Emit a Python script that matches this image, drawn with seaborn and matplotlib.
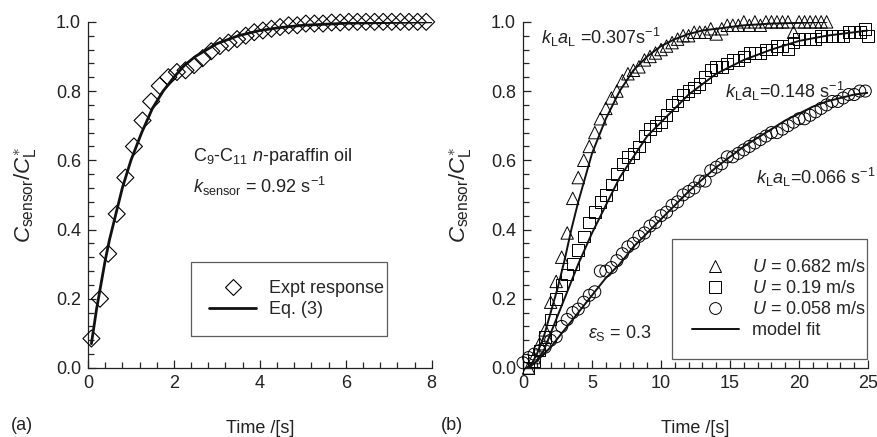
import numpy as np
import pandas as pd
import seaborn as sns
import matplotlib.pyplot as plt
from matplotlib.lines import Line2D
from matplotlib.ticker import MultipleLocator, FormatStrFormatter

# ---- panel (a): sensor response ----
expt_t = [0.08, 0.28, 0.47, 0.67, 0.87, 1.07, 1.27, 1.47, 1.67, 1.87, 2.07, 2.27, 2.47, 2.67,
          2.87, 3.07, 3.27, 3.47, 3.67, 3.87, 4.07, 4.27, 4.47, 4.67, 4.87, 5.07, 5.27, 5.47,
          5.67, 5.87, 6.07, 6.27, 6.47, 6.67, 6.87, 7.07, 7.27, 7.47, 7.67, 7.87]
expt_y = [0.085, 0.20, 0.33, 0.445, 0.55, 0.64, 0.715, 0.77, 0.815, 0.84, 0.855, 0.86, 0.875, 0.895,
          0.915, 0.93, 0.94, 0.95, 0.96, 0.97, 0.975, 0.98, 0.985, 0.99, 0.99, 0.995, 0.995, 0.995,
          0.998, 0.998, 1.0, 1.0, 1.0, 1.0, 1.0, 1.0, 1.0, 1.0, 1.0, 1.0]
eq3_t = [0.08, 0.2, 0.3, 0.4, 0.5, 0.6, 0.8, 1.0, 1.25, 1.5, 1.75, 2.0, 2.25, 2.5, 3.0, 3.5,
         4.0, 4.5, 5.0, 6.0, 7.0, 8.0]
eq3_y = [0.07, 0.17, 0.24, 0.31, 0.37, 0.42, 0.52, 0.60, 0.68, 0.75, 0.80, 0.84, 0.875, 0.90,
         0.937, 0.96, 0.975, 0.984, 0.99, 0.996, 0.998, 1.0]

# ---- panel (b): kLaL runs ----
tri_t = [0.4, 0.8, 1.2, 1.6, 2.0, 2.4, 2.8, 3.2, 3.6, 4.0, 4.4, 4.8, 5.2, 5.6, 6.0, 6.4, 6.8,
         7.2, 7.6, 8.0, 8.4, 8.8, 9.2, 9.6, 10.0, 10.4, 10.8, 11.2, 11.6, 12.0, 12.4, 12.8,
         13.2, 13.6, 14.0, 14.4, 14.8, 15.2, 15.6, 16.0, 16.4, 16.8, 17.2, 17.6, 18.0, 18.4,
         18.8, 19.2, 19.6, 20.0, 20.4, 20.8, 21.2, 21.6, 22.0]
tri_y = [0.00, 0.03, 0.07, 0.11, 0.19, 0.25, 0.32, 0.39, 0.49, 0.55, 0.60, 0.64, 0.68, 0.72,
         0.75, 0.78, 0.80, 0.83, 0.85, 0.86, 0.87, 0.89, 0.90, 0.91, 0.92, 0.93, 0.94, 0.95,
         0.96, 0.96, 0.97, 0.97, 0.97, 0.98, 0.965, 0.98, 0.99, 0.99, 0.99, 1.00, 0.99, 1.00,
         0.99, 1.00, 1.00, 1.00, 1.00, 1.00, 0.97, 1.00, 1.00, 1.00, 1.00, 1.00, 1.00]
sq_t = [0.4, 0.8, 1.2, 1.6, 2.0, 2.4, 2.8, 3.2, 3.6, 4.0, 4.4, 4.8, 5.2, 5.6, 6.0, 6.4, 6.8,
        7.2, 7.6, 8.0, 8.4, 8.8, 9.2, 9.6, 10.0, 10.4, 10.8, 11.2, 11.6, 12.0, 12.4, 12.8,
        13.2, 13.6, 14.0, 14.4, 14.8, 15.2, 15.6, 16.0, 16.4, 16.8, 17.2, 17.6, 18.0, 18.4,
        18.8, 19.2, 19.6, 20.0, 20.4, 20.8, 21.2, 21.6, 22.0, 22.4, 22.8, 23.2, 23.6, 24.0,
        24.4, 24.8, 25.0]
sq_y = [0.00, 0.02, 0.05, 0.09, 0.14, 0.20, 0.24, 0.27, 0.30, 0.34, 0.38, 0.42, 0.45, 0.48,
        0.50, 0.53, 0.56, 0.59, 0.61, 0.62, 0.64, 0.67, 0.69, 0.70, 0.71, 0.73, 0.76, 0.77,
        0.79, 0.80, 0.81, 0.82, 0.84, 0.86, 0.87, 0.87, 0.88, 0.89, 0.89, 0.90, 0.91, 0.91,
        0.91, 0.92, 0.92, 0.93, 0.93, 0.92, 0.94, 0.95, 0.95, 0.95, 0.95, 0.96, 0.96, 0.96,
        0.96, 0.96, 0.97, 0.97, 0.97, 0.98, 0.96]
circ_t = [0.0, 0.4, 0.8, 1.2, 1.6, 2.0, 2.4, 2.8, 3.2, 3.6, 4.0, 4.4, 4.8, 5.2, 5.6, 6.0, 6.4,
          6.8, 7.2, 7.6, 8.0, 8.4, 8.8, 9.2, 9.6, 10.0, 10.4, 10.8, 11.2, 11.6, 12.0, 12.4,
          12.8, 13.2, 13.6, 14.0, 14.4, 14.8, 15.2, 15.6, 16.0, 16.4, 16.8, 17.2, 17.6, 18.0,
          18.4, 18.8, 19.2, 19.6, 20.0, 20.4, 20.8, 21.2, 21.6, 22.0, 22.4, 22.8, 23.2, 23.6,
          24.0, 24.4, 24.8]
circ_y = [0.015, 0.03, 0.04, 0.05, 0.06, 0.08, 0.09, 0.12, 0.14, 0.16, 0.17, 0.19, 0.21, 0.22,
          0.28, 0.28, 0.29, 0.31, 0.33, 0.35, 0.36, 0.38, 0.39, 0.41, 0.42, 0.44, 0.45, 0.47,
          0.48, 0.50, 0.51, 0.52, 0.54, 0.54, 0.57, 0.58, 0.59, 0.61, 0.61, 0.62, 0.63, 0.64,
          0.65, 0.66, 0.67, 0.68, 0.68, 0.69, 0.70, 0.71, 0.72, 0.72, 0.73, 0.74, 0.75, 0.76,
          0.77, 0.77, 0.78, 0.79, 0.79, 0.80, 0.80]

fit307_t = [0.3, 0.6, 1.0, 1.5, 2.0, 2.5, 3.0, 3.5, 4.0, 4.5, 5.0, 5.5, 6.0, 6.5, 7.0, 7.5, 8.0,
            9.0, 10.0, 11.0, 12.0, 13.0, 14.0, 16.0, 18.0, 20.0, 22.0]
fit307_y = [0.0, 0.01, 0.04, 0.09, 0.16, 0.23, 0.31, 0.40, 0.48, 0.55, 0.62, 0.67, 0.72, 0.76,
            0.80, 0.83, 0.86, 0.90, 0.93, 0.95, 0.965, 0.975, 0.98, 0.99, 0.995, 0.997, 1.0]
fit148_t = [0.4, 1.0, 1.5, 2.0, 2.5, 3.0, 3.5, 4.0, 5.0, 6.0, 7.0, 8.0, 9.0, 10.0, 11.0, 12.0,
            13.0, 14.0, 15.0, 16.0, 18.0, 20.0, 22.0, 25.0]
fit148_y = [0.0, 0.02, 0.05, 0.10, 0.15, 0.20, 0.25, 0.30, 0.39, 0.47, 0.55, 0.61, 0.67, 0.71,
            0.75, 0.79, 0.82, 0.85, 0.87, 0.89, 0.92, 0.945, 0.96, 0.975]
fit066_t = [0.3, 1.0, 2.0, 3.0, 4.0, 5.0, 6.0, 7.0, 8.0, 9.0, 10.0, 11.0, 12.0, 13.0, 14.0,
            15.0, 16.0, 17.0, 18.0, 19.0, 20.0, 21.0, 22.0, 23.0, 24.0, 25.0]
fit066_y = [0.0, 0.02, 0.06, 0.11, 0.16, 0.21, 0.26, 0.30, 0.35, 0.39, 0.43, 0.47, 0.51, 0.545,
            0.58, 0.61, 0.64, 0.665, 0.69, 0.715, 0.735, 0.755, 0.77, 0.78, 0.79, 0.795]

sns.set_style('ticks')
plt.rcParams['font.family'] = ['Liberation Sans', 'DejaVu Sans']
plt.rcParams['mathtext.fontset'] = 'custom'
plt.rcParams['mathtext.rm'] = 'Liberation Sans'
plt.rcParams['mathtext.it'] = 'Liberation Sans:italic'
plt.rcParams['mathtext.sf'] = 'Liberation Sans'
FS = 13
TXT = '#222222'

fig = plt.figure(figsize=(8.77, 4.37), dpi=100)
ax1 = fig.add_axes([0.1003, 0.158, 0.392, 0.792])
ax2 = fig.add_axes([0.5964, 0.158, 0.3934, 0.792])


def style_axis(ax, xmax, xmajor, xminor):
    ax.set_xlim(0, xmax)
    ax.set_ylim(0, 1.0)
    ax.xaxis.set_major_locator(MultipleLocator(xmajor))
    ax.xaxis.set_minor_locator(MultipleLocator(xminor))
    ax.yaxis.set_major_locator(MultipleLocator(0.2))
    ax.yaxis.set_minor_locator(MultipleLocator(0.04))
    ax.yaxis.set_major_formatter(FormatStrFormatter('%.1f'))
    ax.tick_params(which='major', direction='in', length=6, width=0.9, labelsize=FS,
                   colors=TXT, pad=5)
    ax.tick_params(which='minor', direction='in', length=4, width=0.9)
    for s in ['top', 'right']:
        ax.spines[s].set_visible(False)
    for s in ['left', 'bottom']:
        ax.spines[s].set_linewidth(0.9)
        ax.spines[s].set_color(TXT)
    ax.set_xlabel('Time /[s]', fontsize=FS, labelpad=20, color=TXT)
    ax.set_ylabel(r'$C_{\mathrm{sensor}}/C_{\mathrm{L}}^{\ast}$', fontsize=16, labelpad=12, color=TXT)


# panel (a)
sns.scatterplot(x=expt_t, y=expt_y, ax=ax1, marker='D', s=75, facecolor='none',
                edgecolor='black', linewidth=0.8, zorder=3, clip_on=False)
sns.lineplot(x=eq3_t, y=eq3_y, ax=ax1, color='#111111', linewidth=2.0, zorder=4)
style_axis(ax1, 8, 2, 0.4)
ax1.text(2.45, 0.61, r'C$_{9}$-C$_{11}$ $n$-paraffin oil', fontsize=FS, va='center', color=TXT)
ax1.text(2.45, 0.525, r'$k_{\mathrm{sensor}}$ = 0.92 s$^{\mathrm{-1}}$', fontsize=FS, va='center',
         color=TXT)
h1 = [Line2D([], [], marker='D', ls='none', mfc='none', mec='black', ms=8.5, mew=0.8),
      Line2D([], [], color='#111111', lw=2.0)]
leg1 = ax1.legend(h1, ['Expt response', 'Eq. (3)'], loc='center',
                  bbox_to_anchor=(0.30, 0.095, 0.57, 0.208), mode='expand', fontsize=FS,
                  frameon=True, fancybox=False, edgecolor='#333333', borderpad=1.0,
                  handlelength=2.6, labelspacing=0.2, handletextpad=0.7, borderaxespad=0)
leg1.get_frame().set_linewidth(0.9)

# panel (b)
for tt, yy, mk, sz in [(tri_t, tri_y, '^', 80), (sq_t, sq_y, 's', 70), (circ_t, circ_y, 'o', 75)]:
    sns.scatterplot(x=tt, y=yy, ax=ax2, marker=mk, s=sz, facecolor='none',
                    edgecolor='black', linewidth=0.7, zorder=3, clip_on=False)
for tt, yy in [(fit307_t, fit307_y), (fit148_t, fit148_y), (fit066_t, fit066_y)]:
    sns.lineplot(x=tt, y=yy, ax=ax2, color='#111111', linewidth=1.4, zorder=4)
style_axis(ax2, 25, 5, 1)
ax2.text(1.3, 0.955, r'$k_{\mathrm{L}}a_{\mathrm{L}}$ =0.307s$^{\mathrm{-1}}$', fontsize=FS,
         va='center', color=TXT)
ax2.text(14.6, 0.80, r'$k_{\mathrm{L}}a_{\mathrm{L}}$=0.148 s$^{\mathrm{-1}}$', fontsize=FS,
         va='center', color=TXT)
ax2.text(16.9, 0.55, r'$k_{\mathrm{L}}a_{\mathrm{L}}$=0.066 s$^{\mathrm{-1}}$', fontsize=FS,
         va='center', color=TXT)
ax2.text(4.7, 0.10, r'$\varepsilon_{\mathrm{S}}$ = 0.3', fontsize=FS, va='center', color=TXT)
h2 = [Line2D([], [], marker='^', ls='none', mfc='none', mec='black', ms=9, mew=0.7),
      Line2D([], [], marker='s', ls='none', mfc='none', mec='black', ms=8, mew=0.7),
      Line2D([], [], marker='o', ls='none', mfc='none', mec='black', ms=8.5, mew=0.7),
      Line2D([], [], color='#111111', lw=1.4)]
leg2 = ax2.legend(h2, [r'$U$ = 0.682 m/s', r'$U$ = 0.19 m/s', r'$U$ = 0.058 m/s', 'model fit'],
                  loc='center', bbox_to_anchor=(0.432, 0.026, 0.565, 0.347), mode='expand',
                  fontsize=FS, frameon=True, fancybox=False, edgecolor='#333333', borderpad=1.1,
                  handlelength=2.6, labelspacing=0.22, handletextpad=0.7, borderaxespad=0)
leg2.get_frame().set_linewidth(0.9)

fig.text(0.012, 0.015, '(a)', fontsize=FS, color=TXT)
fig.text(0.503, 0.015, '(b)', fontsize=FS, color=TXT)

fig.savefig('out.png', dpi=100)
